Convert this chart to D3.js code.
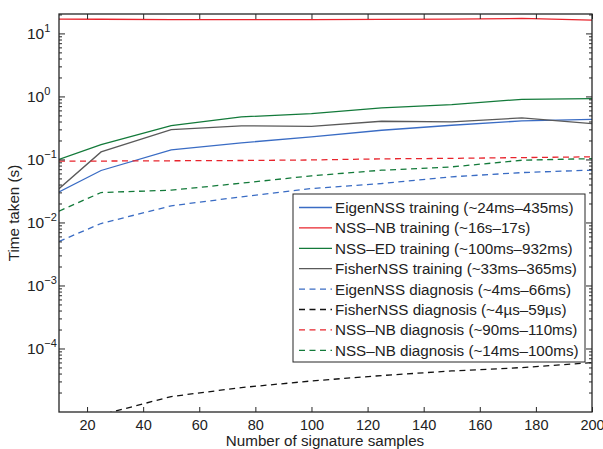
<!DOCTYPE html>
<html>
<head>
<meta charset="utf-8">
<script src="https://cdn.jsdelivr.net/npm/d3@7"></script>
<style>
  body { margin: 0; background: #fff; }
  svg text { font-family: "Liberation Sans", Arial, sans-serif; fill: #222; }
</style>
</head>
<body>
<div id="chart"></div>
<script>
// sample counts on the x axis
var samples = [10, 25, 50, 75, 100, 125, 150, 175, 200];

// times in seconds
var eigenTrain = [0.031, 0.068, 0.145, 0.187, 0.232, 0.296, 0.355, 0.417, 0.44];
var nbTrain = [17.2, 17.1, 16.8, 16.8, 16.9, 17.0, 17.2, 17.6, 16.6];
var edTrain = [0.102, 0.175, 0.351, 0.482, 0.543, 0.668, 0.755, 0.916, 0.94];
var fisherTrain = [0.035, 0.134, 0.303, 0.347, 0.342, 0.411, 0.402, 0.465, 0.378];
var eigenDiag = [0.0051, 0.0098, 0.0187, 0.026, 0.0352, 0.0423, 0.054, 0.063, 0.069];
var fisherDiag = [0.000004, 0.000009, 0.0000176, 0.0000244, 0.0000311, 0.0000379, 0.0000448, 0.0000507, 0.0000608];
var nbDiag = [0.0955, 0.096, 0.097, 0.098, 0.1, 0.104, 0.106, 0.109, 0.112];
var edDiag = [0.0154, 0.0304, 0.0331, 0.0428, 0.056, 0.0687, 0.0776, 0.0989, 0.105];

var seriesNames = [
  "EigenNSS training (~24ms\u2013435ms)",
  "NSS\u2013NB training (~16s\u201317s)",
  "NSS\u2013ED training (~100ms\u2013932ms)",
  "FisherNSS training (~33ms\u2013365ms)",
  "EigenNSS diagnosis (~4ms\u201366ms)",
  "FisherNSS diagnosis (~4\u00b5s\u201359\u00b5s)",
  "NSS\u2013NB diagnosis (~90ms\u2013110ms)",
  "NSS\u2013NB diagnosis (~14ms\u2013100ms)"
];
var seriesValues = [eigenTrain, nbTrain, edTrain, fisherTrain, eigenDiag, fisherDiag, nbDiag, edDiag];
var seriesColors = ["#3a6cc4", "#e8242c", "#137a3a", "#5a5a5a", "#3a6cc4", "#111111", "#e8242c", "#137a3a"];
var seriesDashed = [false, false, false, false, true, true, true, true];

var xTicks = [20, 40, 60, 80, 100, 120, 140, 160, 180, 200];
var yMajor = [1e-4, 1e-3, 1e-2, 1e-1, 1, 10];
var yExp = ["\u22124", "\u22123", "\u22122", "\u22121", "0", "1"];

var W = 603, H = 449;
var margin = {top: 14, right: 11, bottom: 37, left: 59},
  width = W - margin.left - margin.right,
  height = H - margin.top - margin.bottom;

var svg = d3.select("#chart").append("svg")
  .attr("width", W)
  .attr("height", H);

var g = svg.append("g")
  .attr("transform", "translate(" + margin.left + "," + margin.top + ")");

var x = d3.scaleLinear().domain([10, 200]).range([0, width]);
var y = d3.scaleLog().domain([1e-5, 20.7]).range([height, 0]);

g.append("clipPath").attr("id", "clip")
  .append("rect").attr("width", width).attr("height", height);

// lines
var line = d3.line()
  .x(function (d, i) { return x(samples[i]); })
  .y(function (d) { return y(d); });

var plot = g.append("g").attr("clip-path", "url(#clip)");
seriesValues.forEach(function (vals, k) {
  plot.append("path")
    .datum(vals)
    .attr("d", line)
    .attr("fill", "none")
    .attr("stroke", seriesColors[k])
    .attr("stroke-width", 1.3)
    .attr("stroke-dasharray", seriesDashed[k] ? "6,4.5" : null);
});

// minor ticks for log axis
var minor = [];
for (var e = -5; e <= 1; e++) {
  for (var m = 2; m <= 9; m++) {
    var v = m * Math.pow(10, e);
    if (v < 20.7) minor.push(v);
  }
}

var axisColor = "#262626";

// bottom + top axes
g.append("g")
  .attr("transform", "translate(0," + height + ")")
  .call(d3.axisBottom(x).tickValues(xTicks).tickSize(-5).tickPadding(8).tickSizeOuter(0))
  .call(function (a) {
    a.select(".domain").remove();
    a.selectAll("line").attr("stroke", axisColor);
    a.selectAll("text").style("font-size", "14.5px").attr("fill", "#222")
      .attr("font-family", "Liberation Sans, Arial, sans-serif");
  });
g.append("g")
  .call(d3.axisTop(x).tickValues(xTicks).tickSize(-5).tickFormat("").tickSizeOuter(0))
  .call(function (a) {
    a.select(".domain").remove();
    a.selectAll("line").attr("stroke", axisColor);
  });

// left + right major / minor ticks
[0, width].forEach(function (xp, side) {
  var dir = side === 0 ? 1 : -1;
  g.append("g").selectAll("line.maj")
    .data(yMajor).enter().append("line")
    .attr("x1", xp).attr("x2", xp + dir * 6)
    .attr("y1", function (d) { return y(d); })
    .attr("y2", function (d) { return y(d); })
    .attr("stroke", axisColor);
  g.append("g").selectAll("line.min")
    .data(minor).enter().append("line")
    .attr("x1", xp).attr("x2", xp + dir * 3)
    .attr("y1", function (d) { return y(d); })
    .attr("y2", function (d) { return y(d); })
    .attr("stroke", axisColor);
});

// y tick labels 10^n
var yl = g.append("g");
yMajor.forEach(function (d, i) {
  var t = yl.append("text")
    .attr("x", -32)
    .attr("y", y(d) + 5)
    .style("font-size", "15.5px");
  t.append("tspan").text("10");
  t.append("tspan").attr("dy", -7).style("font-size", "11px").text(yExp[i]);
});

// box
g.append("rect")
  .attr("width", width).attr("height", height)
  .attr("fill", "none").attr("stroke", axisColor).attr("stroke-width", 1.3);

// axis titles
svg.append("text")
  .attr("x", 325)
  .attr("y", 446)
  .style("text-anchor", "middle")
  .style("font-size", "15.2px")
  .text("Number of signature samples");

svg.append("text")
  .attr("transform", "translate(19," + 213 + ") rotate(-90)")
  .style("text-anchor", "middle")
  .style("font-size", "15.2px")
  .text("Time taken (s)");

// legend
var lg = svg.append("g").attr("transform", "translate(293,194)");
lg.append("rect")
  .attr("width", 292).attr("height", 168)
  .attr("fill", "#fff").attr("stroke", axisColor).attr("stroke-width", 1);
seriesNames.forEach(function (name, k) {
  var yy = 13.5 + k * 20.4;
  lg.append("line")
    .attr("x1", 6).attr("x2", 39)
    .attr("y1", yy).attr("y2", yy)
    .attr("stroke", seriesColors[k])
    .attr("stroke-width", 1.3)
    .attr("stroke-dasharray", seriesDashed[k] ? "6,4.5" : null);
  lg.append("text")
    .attr("x", 42)
    .attr("y", yy + 5.5)
    .style("font-size", "15.2px")
    .text(name);
});
</script>
</body>
</html>
